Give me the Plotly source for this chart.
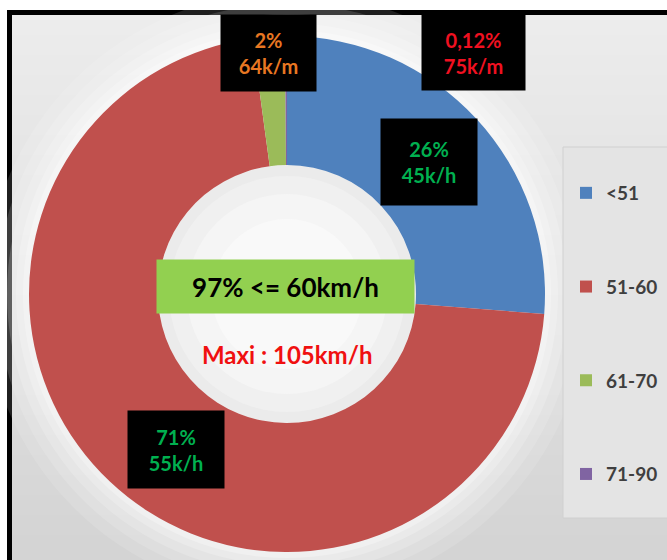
import plotly.graph_objects as go

# data
labels = ['<51', '51-60', '61-70', '71-90']
shares = [26, 71, 2, 0.12]
colors = ['#4F81BD', '#C0504D', '#9BBB59', '#8064A2']

box_texts = ['26%<br>45k/h', '71%<br>55k/h', '2%<br>64k/m', '0,12%<br>75k/m']
box_colors = ['#00B050', '#00B050', '#E87722', '#F01020']
headline = '97% <= 60km/h'
maxi = 'Maxi : 105km/h'

W, H = 667, 560
FONT = 'Lato'


def px(x):
    return x / W


def py(y):
    return 1 - y / H


def circle(cx, cy, r, fill, opacity=1.0):
    return dict(type='circle', xref='paper', yref='paper', layer='below',
                x0=px(cx - r), x1=px(cx + r), y0=py(cy + r), y1=py(cy - r),
                fillcolor=fill, opacity=opacity, line=dict(width=0))


def rect(x0, y0, x1, y1, fill, line=None):
    return dict(type='rect', xref='paper', yref='paper', layer='below',
                x0=px(x0), x1=px(x1), y0=py(y1), y1=py(y0),
                fillcolor=fill, line=line or dict(width=0))


CX, CY, R = 287, 294, 258

fig = go.Figure()

fig.add_trace(go.Pie(
    labels=labels,
    values=shares,
    hole=0.5,
    sort=False,
    direction='clockwise',
    rotation=0,
    marker=dict(colors=colors, line=dict(width=0)),
    textinfo='none',
    showlegend=False,
    domain=dict(x=[px(CX - R), px(CX + R)], y=[py(CY + R), py(CY - R)]),
))

# legend entries with wide spacing
for lab, col in zip(labels, colors):
    fig.add_trace(go.Scatter(
        x=[None], y=[None], mode='markers', name=lab, legendgroup=lab,
        marker=dict(symbol='square', size=12, color=col),
    ))

# frame and a light-to-darker vertical background
shapes = [rect(7, 10, 720, 620, 'black')]
steps = 28
for i in range(steps):
    y0 = 15 + i * 20
    g = int(236 - (236 - 212) * i / (steps - 1))
    shapes.append(rect(12, y0, 720, y0 + 21, f'rgb({g},{g},{g})'))

# soft glow around the ring
for extra, op in [(44, 0.12), (32, 0.14), (22, 0.18), (13, 0.22), (6, 0.28)]:
    shapes.append(circle(CX, CY, R + extra, 'white', op))
shapes += [
    circle(CX, CY, 129, '#ebebeb'),
    circle(CX, CY, 118, '#f0f0f0'),
    circle(CX, CY, 100, '#f5f5f5'),
    circle(CX, CY, 75, '#f9f9f9'),
    rect(563, 147, 720, 518, '#e4e4e4', dict(color='#d0d0d0', width=1)),
]

# black label boxes: (x0, y0, x1, y1)
boxes = [(381, 119, 477, 205), (128, 411, 224, 488), (221, 15, 316, 91), (422, 15, 525, 90)]
annotations = []
for (x0, y0, x1, y1), txt, col in zip(boxes, box_texts, box_colors):
    annotations.append(dict(
        x=px((x0 + x1) / 2), y=py((y0 + y1) / 2), xref='paper', yref='paper',
        xanchor='center', yanchor='middle', showarrow=False,
        text=txt, width=x1 - x0, height=y1 - y0, borderpad=0,
        bgcolor='black', align='center',
        font=dict(family=FONT, size=20, color=col, weight='bold'),
    ))

annotations.append(dict(
    x=px(285.5), y=py(286.5), xref='paper', yref='paper',
    xanchor='center', yanchor='middle', showarrow=False,
    text=headline, width=257, height=53, borderpad=0, bgcolor='#92D050',
    font=dict(family=FONT, size=26, color='black', weight='bold'),
))
annotations.append(dict(
    x=px(287), y=py(354), xref='paper', yref='paper',
    xanchor='center', yanchor='middle', showarrow=False,
    text=maxi,
    font=dict(family=FONT, size=24, color='#F01010', weight='bold'),
))

fig.update_layout(
    width=W, height=H,
    margin=dict(l=0, r=0, t=0, b=0),
    paper_bgcolor='white',
    plot_bgcolor='rgba(0,0,0,0)',
    xaxis=dict(visible=False),
    yaxis=dict(visible=False),
    shapes=shapes,
    annotations=annotations,
    showlegend=True,
    legend=dict(
        x=px(566), y=py(174), xanchor='left', yanchor='top',
        bgcolor='rgba(0,0,0,0)', borderwidth=0,
        tracegroupgap=66, itemwidth=30,
        font=dict(family=FONT, size=19, color='#3F3F3F', weight='bold'),
    ),
)

fig.write_html("out.html", config={'displayModeBar': False},
               post_script="document.body.style.margin='0';")
